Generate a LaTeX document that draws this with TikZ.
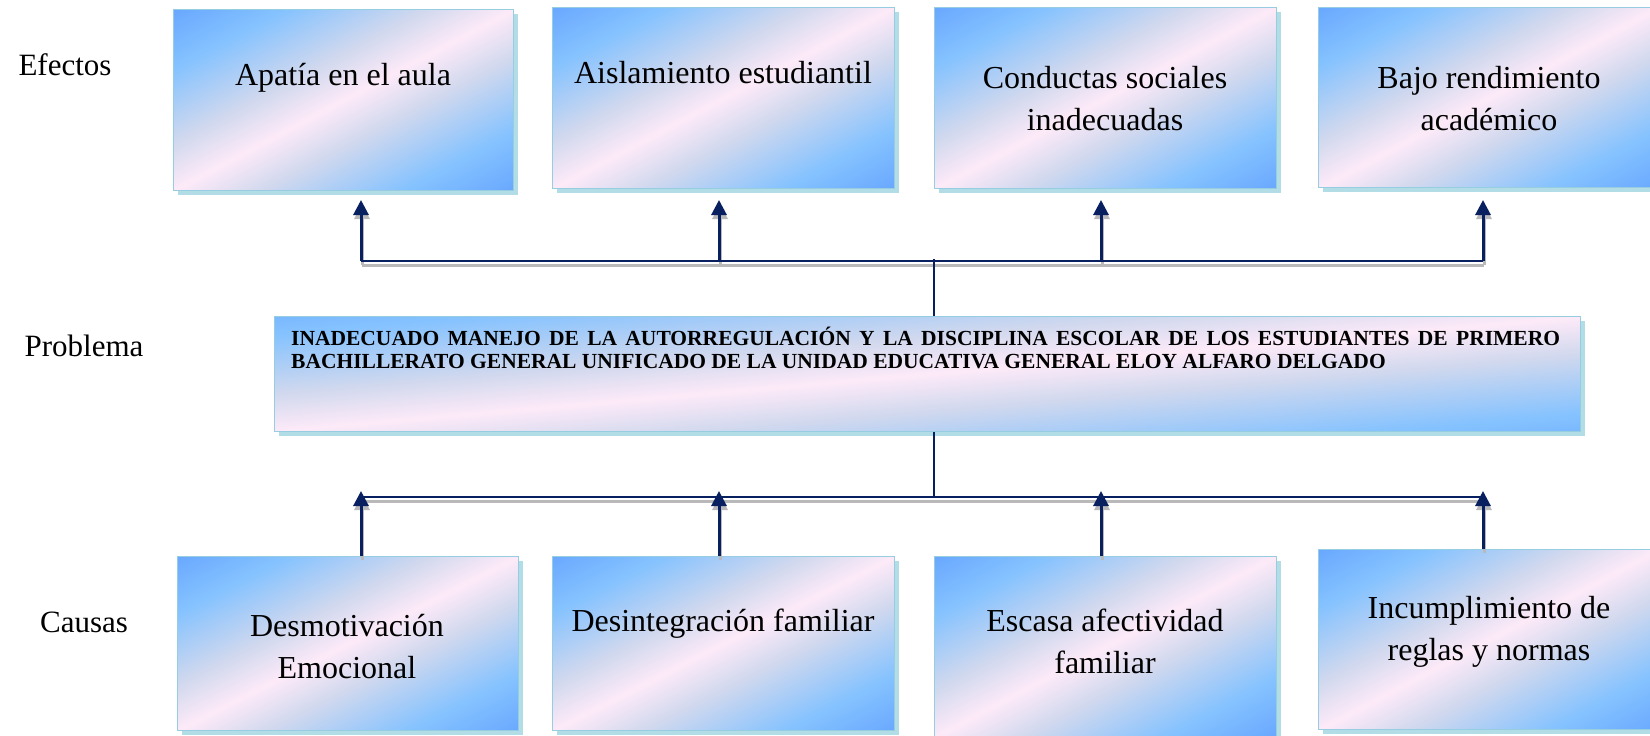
\documentclass[tikz,border=0pt]{standalone}
\usepackage{fontspec}
\setmainfont{Liberation Serif}
\usetikzlibrary{arrows.meta,shadows}
\definecolor{gdeep}{RGB}{100,162,255}
\definecolor{gsky}{RGB}{132,194,255}
\definecolor{glav}{RGB}{208,216,238}
\definecolor{gpink}{RGB}{253,234,248}
\definecolor{bshadow}{RGB}{178,220,230}
\definecolor{bborder}{RGB}{150,205,225}
\definecolor{navy}{RGB}{8,32,96}
\pgfdeclarehorizontalshading{boxgrad}{100bp}{color(0bp)=(gdeep); color(14bp)=(gdeep); color(27bp)=(gsky); color(41bp)=(glav); color(50bp)=(gpink); color(59bp)=(glav); color(73bp)=(gsky); color(86bp)=(gdeep); color(100bp)=(gdeep)}
\tikzset{
  gbox/.style={draw=bborder, line width=1pt, shading=boxgrad, shading angle=#1, anchor=north west, inner sep=0pt,
    drop shadow={shadow xshift=4pt, shadow yshift=-4pt, fill=bshadow, opacity=1}},
  lbl/.style={inner sep=0pt, align=center, font=\fontsize{32}{42}\selectfont},
  side/.style={inner sep=0pt, font=\fontsize{31}{40}\selectfont},
  conn/.style={draw=navy, line width=2.2pt},
  connshd/.style={draw=gray!55, line width=3pt, transform canvas={xshift=1pt,yshift=-4pt}},
  arr/.style={draw=navy, line width=3pt, -{Triangle[width=15pt,length=15pt]}},
  arrshd/.style={draw=gray!55, fill=gray!55, line width=3pt, -{Triangle[width=15pt,length=15pt]}, transform canvas={xshift=1pt,yshift=-4pt}}
}
\begin{document}
\begin{tikzpicture}[x=1pt,y=-1pt]
\useasboundingbox (0,0) rectangle (1650,736);
\clip (0,0) rectangle (1650,736);
% boxes
\node[gbox=-62, minimum width=340pt, minimum height=181pt] (e1) at (173,9) {};
\node[gbox=-62, minimum width=342pt, minimum height=181pt] (e2) at (552,7) {};
\node[gbox=-62, minimum width=342pt, minimum height=181pt] (e3) at (934,7) {};
\node[gbox=-62, minimum width=342pt, minimum height=180pt] (e4) at (1318,7) {};
\node[gbox=-85, minimum width=1306pt, minimum height=115pt] (p) at (274,316) {};
\node[gbox=-63, minimum width=341pt, minimum height=174pt] (c1) at (177,556) {};
\node[gbox=-63, minimum width=342pt, minimum height=174pt] (c2) at (552,556) {};
\node[gbox=-62, minimum width=342pt, minimum height=180pt] (c3) at (934,556) {};
\node[gbox=-62, minimum width=342pt, minimum height=180pt] (c4) at (1318,549) {};
% texts
\node[lbl, anchor=base] (te1) at (343,85) {Apatía en el aula};
\node[lbl, anchor=base] (te2) at (723,83) {Aislamiento estudiantil};
\node[lbl, anchor=base] (te3) at (1105,130) {Conductas sociales\\inadecuadas};
\node[lbl, anchor=base] (te4) at (1489,130) {Bajo rendimiento\\académico};
\node[lbl, anchor=base] (tc1) at (347,678) {Desmotivación\\Emocional};
\node[lbl, anchor=base] (tc2) at (723,631) {Desintegración familiar};
\node[lbl, anchor=base] (tc3) at (1105,673) {Escasa afectividad\\familiar};
\node[lbl, anchor=base] (tc4) at (1489,660) {Incumplimiento de\\reglas y normas};
\node[inner sep=0pt, anchor=base west, font=\bfseries\fontsize{21.5}{22.7}\selectfont] (tp) at (291,345.5)
  {\parbox[t]{1269pt}{INADECUADO MANEJO DE LA AUTORREGULACIÓN Y LA DISCIPLINA ESCOLAR DE LOS ESTUDIANTES DE PRIMERO\linebreak BACHILLERATO GENERAL UNIFICADO DE LA UNIDAD EDUCATIVA GENERAL ELOY ALFARO DELGADO}};
\node[side, anchor=base] (sefe) at (65,75) {Efectos};
\node[side, anchor=base] (spro) at (84,356) {Problema};
\node[side, anchor=base] (scau) at (84,632) {Causas};
% coordinates
\coordinate (hu1) at (361,261); \coordinate (hu2) at (719,261);
\coordinate (hu3) at (1101,261); \coordinate (hu4) at (1483,261);
\coordinate (hum) at (934,259);
\coordinate (ta1) at (361,200); \coordinate (ta2) at (719,200);
\coordinate (ta3) at (1101,200); \coordinate (ta4) at (1483,200);
\coordinate (hl1) at (361,497); \coordinate (hl4) at (1483,497);
\coordinate (hlm) at (934,497);
\coordinate (tb1) at (361,491); \coordinate (tb2) at (719,491);
\coordinate (tb3) at (1101,491); \coordinate (tb4) at (1483,491);
\coordinate (bb1) at (361,556); \coordinate (bb2) at (719,556);
\coordinate (bb3) at (1101,556); \coordinate (bb4) at (1483,549);
% shadows of connectors
\draw[connshd] (hu1) -- (hu4);
\draw[connshd] (hl1) -- (hl4);
\foreach \i in {1,2,3,4} {
  \draw[arrshd] (hu\i) -- (ta\i);
  \draw[arrshd] (bb\i) -- (tb\i);
}
% connectors
\draw[conn] (hu1) -- (hu4);
\draw[conn] (hl1) -- (hl4);
\draw[conn] (hum) -- (p.north -| hum);
\draw[conn] (p.south -| hlm) -- (hlm);
\foreach \i in {1,2,3,4} {
  \draw[arr] (hu\i) -- (ta\i);
  \draw[arr] (bb\i) -- (tb\i);
}
\end{tikzpicture}
\end{document}
